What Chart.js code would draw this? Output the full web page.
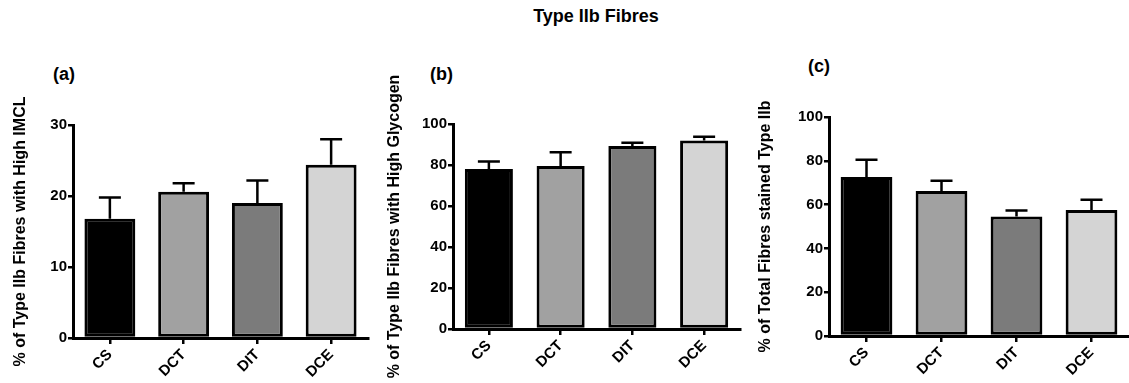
<!DOCTYPE html>
<html>
<head>
<meta charset="utf-8">
<script src="https://cdn.jsdelivr.net/npm/chart.js@4"></script>
<style>
  body { margin: 0; background: #fff; width: 1129px; height: 383px; position: relative; overflow: hidden;
         font-family: "Liberation Sans", Arial, sans-serif; }
  canvas { position: absolute; top: 0; }
  .lbl { position: absolute; font-weight: bold; color: #000; line-height: 1; white-space: nowrap; }
</style>
</head>
<body>
<div class="lbl" style="left:496px; width:200px; text-align:center; top:7px; font-size:18px;">Type IIb Fibres</div>
<div class="lbl" style="left:53px; top:65px; font-size:18px;">(a)</div>
<div class="lbl" style="left:430px; top:65px; font-size:18px;">(b)</div>
<div class="lbl" style="left:808px; top:57px; font-size:18px;">(c)</div>

<canvas id="chartA" width="378" height="383" style="left:0px"></canvas>
<canvas id="chartB" width="378" height="383" style="left:378px"></canvas>
<canvas id="chartC" width="373" height="383" style="left:756px"></canvas>

<script>
// --- données ---
const categories = ['CS', 'DCT', 'DIT', 'DCE'];
const barColors = ['#000000', '#a1a1a1', '#7b7b7b', '#d4d4d4'];

const imclMeans = [16.8, 20.6, 19.0, 24.4];
const imclErrors = [3.0, 1.2, 3.2, 3.6];

const glycogenMeans = [78.1, 79.5, 89.3, 91.9];
const glycogenErrors = [3.6, 6.7, 1.6, 1.9];

const stainedMeans = [72.6, 66.2, 54.6, 57.5];
const stainedErrors = [7.9, 4.7, 2.7, 4.7];

const fontFamily = '"Liberation Sans", Arial, sans-serif';

// --- barres d'erreur (SEM, vers le haut seulement) ---
const errorBars = {
  id: 'errorBars',
  afterDatasetsDraw(chart) {
    const ctx = chart.ctx;
    const yScale = chart.scales.y;
    const ds = chart.data.datasets[0];
    const meta = chart.getDatasetMeta(0);
    ctx.save();
    ctx.strokeStyle = '#000';
    ctx.lineWidth = 2.5;
    meta.data.forEach((bar, i) => {
      const top = yScale.getPixelForValue(ds.data[i] + ds.errors[i]);
      ctx.beginPath();
      ctx.moveTo(bar.x, bar.y);
      ctx.lineTo(bar.x, top);
      ctx.moveTo(bar.x - 11, top);
      ctx.lineTo(bar.x + 11, top);
      ctx.stroke();
    });
    ctx.restore();
  }
};

function makeChart(id, opts) {
  return new Chart(document.getElementById(id), {
    type: 'bar',
    data: {
      labels: categories,
      datasets: [{
        data: opts.means,
        errors: opts.errors,
        backgroundColor: barColors,
        borderColor: '#000',
        borderWidth: 3,
        borderSkipped: false,
        barPercentage: opts.barPct,
        categoryPercentage: 1
      }]
    },
    options: {
      responsive: false,
      animation: false,
      layout: { padding: { top: opts.top, right: opts.right, left: 0, bottom: 0 } },
      plugins: { legend: { display: false }, tooltip: { enabled: false } },
      scales: {
        x: {
          offset: true,
          grid: { display: true, drawOnChartArea: false, offset: false, tickLength: 6, color: '#000', lineWidth: 2.5 },
          border: { display: true, color: '#000', width: 3 },
          ticks: { color: '#000', minRotation: 45, maxRotation: 45, padding: 2,
                   font: { family: fontFamily, size: 15, weight: 'bold' } },
          afterFit(scale) { scale.height = opts.xHeight; }
        },
        y: {
          min: 0,
          max: opts.max,
          ticks: { stepSize: opts.step, color: '#000', padding: 1,
                   font: { family: fontFamily, size: 15, weight: 'bold' } },
          grid: { display: true, drawOnChartArea: false, tickLength: 5, color: '#000', lineWidth: 2.5 },
          border: { display: true, color: '#000', width: 3 },
          title: {
            display: true,
            text: opts.title,
            color: '#000',
            padding: { top: opts.titlePad, bottom: 0 },
            font: { family: fontFamily, size: 16, weight: 'bold' }
          },
          afterFit(scale) { scale.width = opts.yWidth; }
        }
      }
    },
    plugins: [errorBars]
  });
}

makeChart('chartA', {
  means: imclMeans, errors: imclErrors, max: 30, step: 10, barPct: 0.69,
  title: '% of Type IIb Fibres with High IMCL',
  top: 125, right: 10, yWidth: 73, xHeight: 45, titlePad: 11
});

makeChart('chartB', {
  means: glycogenMeans, errors: glycogenErrors, max: 100, step: 20, barPct: 0.67,
  title: '% of Type IIb Fibres with High Glycogen',
  top: 124, right: 16, yWidth: 75, xHeight: 54, titlePad: 7
});

makeChart('chartC', {
  means: stainedMeans, errors: stainedErrors, max: 100, step: 20, barPct: 0.69,
  title: '% of Total Fibres stained Type IIb',
  top: 117, right: 0, yWidth: 73, xHeight: 47, titlePad: 0
});
</script>
</body>
</html>
